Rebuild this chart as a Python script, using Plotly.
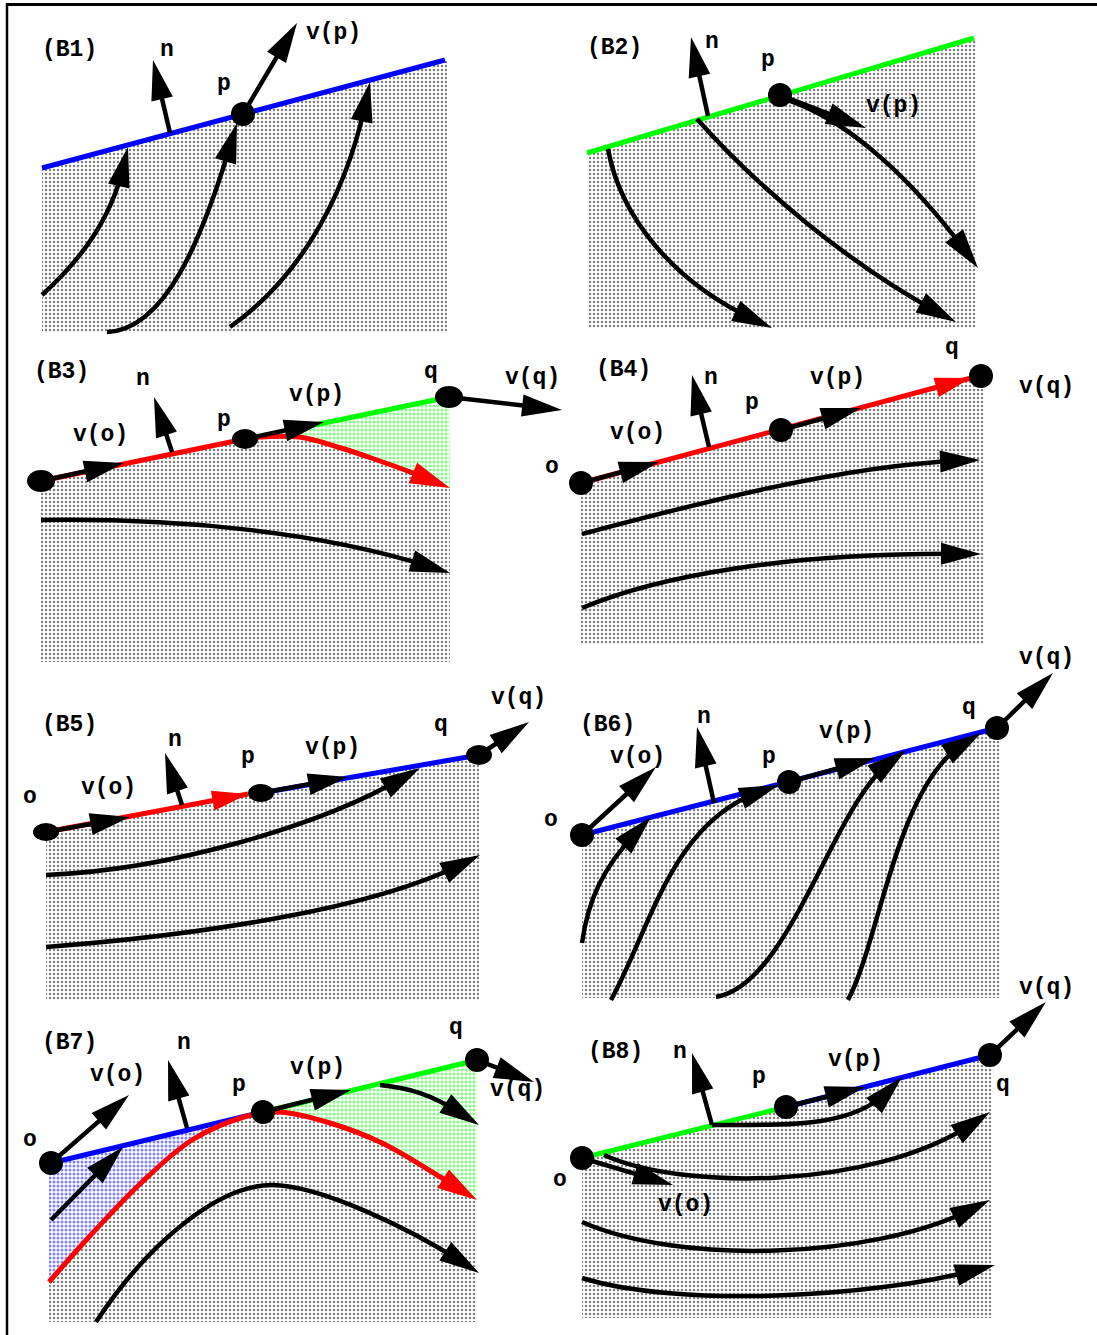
import numpy as np
import plotly.graph_objects as go

W, H = 1097, 1335
FONT = "Liberation Mono"
BLUE, GREEN, RED, BLACK = "#0000ff", "#00ff00", "#ff0000", "#000000"

# Curved flow lines are given as cubic Bezier control polygons:
# [start, ctrl1, ctrl2, end, (ctrl, ctrl, end) ...]; the arrowhead sits at the end.

# ---------------- panel B1 ----------------
B1_EDGE = [(42, 168), (445, 60)]
B1_FILL = [(42, 168), (447, 59), (447, 333), (42, 333)]
B1_P = (243, 114)
B1_N = [(170, 133), (153, 60)]
B1_VP = [(243, 114), (297, 23)]
B1_FLOW1 = [(42, 295), (75, 265), (112, 215), (128, 147)]
B1_FLOW2 = [(107, 332), (165, 330), (205, 230), (237, 123)]
B1_FLOW3 = [(230, 327), (290, 285), (345, 200), (370, 82)]
B1_LABELS = [("(B1)", 69, 50), ("n", 167, 50), ("p", 224, 84), ("v(p)", 333, 33)]

# ---------------- panel B2 ----------------
B2_EDGE = [(587, 153), (974, 38)]
B2_FILL = [(587, 153), (976, 38), (976, 328), (587, 328)]
B2_P = (780, 95)
B2_N = [(708, 116), (691, 37)]
B2_VP = [(780, 95), (866, 128)]
B2_FLOW1 = [(608, 149), (620, 215), (680, 285), (772, 328)]
B2_FLOW2 = [(697, 119), (760, 190), (860, 270), (956, 322)]
B2_FLOW3 = [(785, 99), (850, 120), (920, 190), (978, 268)]
B2_LABELS = [("(B2)", 614, 48), ("n", 712, 42), ("p", 768, 60), ("v(p)", 893, 106)]

# ---------------- panel B3 ----------------
B3_O, B3_P, B3_Q = (41, 481), (245, 439), (449, 397)
B3_RED_EDGE = [(41, 481), (245, 439)]
B3_GREEN_EDGE = [(300, 428), (449, 397)]
B3_RED_FLOW = [(245, 438), (299, 437), (341, 448), (377, 460), (413, 473), (450, 488)]
B3_VO = [(41, 481), (124, 463)]
B3_VP = [(245, 439), (324, 422)]
B3_VQ = [(449, 397), (562, 410)]
B3_N = [(172, 452), (154, 397)]
B3_GRAY = [(41, 481), (245, 439), (299, 437), (341, 448), (377, 460), (413, 474),
           (450, 488), (450, 662), (41, 662)]
B3_GREENFILL = [(260, 436), (449, 397), (450, 488), (413, 474), (377, 460), (341, 448), (299, 437)]
B3_FLOW = [(41, 520), (180, 518), (330, 535), (450, 573)]
B3_LABELS = [("(B3)", 61, 372), ("n", 143, 379), ("p", 224, 420), ("v(o)", 100, 435),
             ("v(p)", 316, 395), ("q", 431, 372), ("v(q)", 532, 378)]

# ---------------- panel B4 ----------------
B4_O, B4_P, B4_Q = (581, 483), (781, 430), (981, 376)
B4_RED_EDGE = [(581, 483), (971, 378)]
B4_VO = [(581, 483), (659, 462)]
B4_VP = [(781, 430), (861, 408)]
B4_N = [(709, 447), (692, 375)]
B4_FILL = [(581, 483), (984, 375), (984, 645), (581, 645)]
B4_FLOW1 = [(582, 534), (680, 508), (850, 465), (980, 460)]
B4_FLOW2 = [(582, 608), (660, 575), (800, 553), (981, 554)]
B4_LABELS = [("(B4)", 623, 370), ("n", 711, 378), ("p", 752, 403), ("v(o)", 637, 433),
             ("v(p)", 837, 378), ("q", 952, 348), ("v(q)", 1046, 387), ("o", 552, 467)]

# ---------------- panel B5 ----------------
B5_O, B5_P, B5_Q = (46, 832), (261, 793), (479, 755)
B5_RED_EDGE = [(46, 832), (248, 794)]
B5_BLUE_EDGE = [(261, 793), (479, 755)]
B5_VO = [(46, 832), (130, 817)]
B5_VP = [(261, 793), (348, 777)]
B5_VQ = [(479, 755), (529, 722)]
B5_N = [(182, 805), (165, 753)]
B5_FILL = [(46, 832), (261, 793), (479, 755), (479, 1000), (46, 1000)]
B5_FLOW1 = [(46, 875), (170, 870), (330, 820), (420, 768)]
B5_FLOW2 = [(46, 947), (200, 935), (380, 905), (480, 855)]
B5_LABELS = [("(B5)", 69, 725), ("n", 175, 740), ("p", 248, 757), ("v(p)", 332, 748),
             ("o", 30, 797), ("v(o)", 108, 788), ("q", 441, 725), ("v(q)", 518, 698)]

# ---------------- panel B6 ----------------
B6_O, B6_P, B6_Q = (582, 835), (789, 782), (997, 728)
B6_BLUE_EDGE = [(582, 835), (997, 728)]
B6_VO = [(582, 835), (656, 767)]
B6_VP = [(789, 782), (875, 758)]
B6_VQ = [(997, 728), (1053, 673)]
B6_N = [(714, 803), (697, 727)]
B6_FILL = [(582, 835), (1000, 728), (1000, 998), (582, 998)]
B6_FLOW1 = [(582, 943), (588, 900), (610, 860), (651, 817)]
B6_FLOW2 = [(611, 1000), (650, 930), (680, 820), (779, 785)]
B6_FLOW3 = [(716, 997), (790, 985), (840, 800), (906, 750)]
B6_FLOW4 = [(848, 1000), (880, 940), (905, 780), (981, 733)]
B6_LABELS = [("(B6)", 607, 725), ("v(o)", 637, 757), ("n", 704, 717), ("p", 769, 757),
             ("v(p)", 846, 732), ("q", 969, 708), ("v(q)", 1046, 658), ("o", 551, 820)]

# ---------------- panel B7 ----------------
B7_O, B7_P, B7_Q = (51, 1163), (263, 1112), (477, 1060)
B7_BLUE_EDGE = [(51, 1163), (263, 1112)]
B7_GREEN_EDGE = [(263, 1112), (477, 1060)]
B7_RED_FLOW = [(49, 1282), (89, 1237), (141, 1183), (192, 1140), (244, 1117), (279, 1112),
               (330, 1123), (382, 1143), (442, 1178), (477, 1200)]
B7_VO = [(51, 1163), (129, 1095)]
B7_VP = [(263, 1112), (351, 1090)]
B7_VQ = [(477, 1060), (534, 1082)]
B7_N = [(187, 1128), (168, 1060)]
B7_INNER = [(51, 1220), (123, 1147)]
B7_SMALL = [(380, 1085), (410, 1088), (440, 1100), (479, 1125)]
B7_FLOW = [(96, 1322), (150, 1240), (220, 1185), (272, 1185), (320, 1185), (420, 1235), (479, 1273)]
B7_BLUEFILL = [(49, 1163), (263, 1112), (244, 1117), (192, 1140), (141, 1183), (89, 1237), (49, 1282)]
B7_GREENFILL = [(263, 1112), (477, 1060), (477, 1200), (442, 1178), (382, 1143), (330, 1123), (279, 1112)]
B7_GRAYFILL = [(49, 1282), (89, 1237), (141, 1183), (192, 1140), (244, 1117), (279, 1112),
               (330, 1123), (382, 1143), (442, 1178), (477, 1200), (477, 1322), (49, 1322)]
B7_LABELS = [("(B7)", 69, 1043), ("n", 184, 1043), ("v(o)", 117, 1075), ("o", 30, 1140),
             ("p", 239, 1085), ("v(p)", 317, 1068), ("q", 456, 1028), ("v(q)", 517, 1090)]

# ---------------- panel B8 ----------------
B8_O, B8_P, B8_Q = (582, 1158), (786, 1107), (990, 1055)
B8_GREEN_EDGE = [(582, 1158), (786, 1107)]
B8_BLUE_EDGE = [(786, 1107), (990, 1055)]
B8_VO = [(582, 1158), (673, 1185)]
B8_VP = [(786, 1107), (865, 1087)]
B8_VQ = [(990, 1055), (1046, 1002)]
B8_N = [(712, 1125), (692, 1053)]
B8_SPLIT = [(712, 1125), (790, 1125), (860, 1120), (902, 1077)]
B8_FILL = [(582, 1158), (992, 1055), (992, 1318), (582, 1318)]
B8_FLOW1 = [(604, 1155), (680, 1190), (880, 1185), (990, 1112)]
B8_FLOW2 = [(582, 1222), (680, 1265), (880, 1255), (990, 1200)]
B8_FLOW3 = [(582, 1278), (680, 1308), (880, 1295), (995, 1265)]
B8_LABELS = [("(B8)", 615, 1052), ("n", 680, 1052), ("p", 759, 1077), ("v(p)", 855, 1060),
             ("v(q)", 1046, 988), ("q", 1003, 1085), ("v(o)", 685, 1205), ("o", 560, 1180)]

# ---------------- frame ----------------
FRAME_TOP = [(6, 4.5), (1097, 4.5)]
FRAME_LEFT = [(7, 3), (7, 1335)]

# =====================================================================
fig = go.Figure()
DOT_R = 12
HEAD_L, HEAD_W = 40, 11
ARROW_W = 4.5
shapes = []
dots = []
annotations = []


def xy(pts):
    return [p[0] for p in pts], [p[1] for p in pts]


def region(pts, fg=BLACK, solidity=0.3):
    x, y = xy(pts)
    fig.add_trace(go.Scatter(
        x=x + [x[0]], y=y + [y[0]], mode="lines", fill="toself",
        line=dict(width=0, color="rgba(0,0,0,0)"), fillcolor="white",
        fillpattern=dict(shape=".", size=4, solidity=solidity, fgcolor=fg, bgcolor="white"),
        hoverinfo="skip"))


def line(pts, color, width=5, spline=False):
    x, y = xy(pts)
    fig.add_trace(go.Scatter(
        x=x, y=y, mode="lines",
        line=dict(color=color, width=width, shape="spline" if spline else "linear"),
        hoverinfo="skip"))


def unit(a, b):
    d = np.array(b, float) - np.array(a, float)
    return d / np.linalg.norm(d)


def head(tip, frm, color=BLACK, L=HEAD_L, hw=HEAD_W):
    t = np.array(tip, float)
    d = unit(frm, tip)
    nrm = np.array([-d[1], d[0]])
    b = t - L * d
    p1, p2 = b + hw * nrm, b - hw * nrm
    shapes.append(dict(type="path", xref="x", yref="y",
                       path="M %.1f,%.1f L %.1f,%.1f L %.1f,%.1f Z" % (t[0], t[1], p1[0], p1[1], p2[0], p2[1]),
                       fillcolor=color, line=dict(width=0), layer="above"))


def arrow(pts, color=BLACK):
    # straight arrow
    d = unit(pts[0], pts[1])
    end = np.array(pts[1], float) - 0.5 * HEAD_L * d
    shapes.append(dict(type="path", xref="x", yref="y",
                       path="M %.1f,%.1f L %.1f,%.1f" % (pts[0][0], pts[0][1], end[0], end[1]),
                       line=dict(color=color, width=ARROW_W), layer="above"))
    head(pts[1], pts[0], color)


def curve_arrow(ctrl, color=BLACK, width=ARROW_W):
    tip, c_last = np.array(ctrl[-1], float), np.array(ctrl[-2], float)
    d = unit(c_last, tip)
    off = 0.5 * HEAD_L * d
    pts = [np.array(p, float) for p in ctrl]
    pts[-1] = tip - off
    pts[-2] = c_last - off * 0.5
    s = "M %.1f,%.1f" % (pts[0][0], pts[0][1])
    for i in range(1, len(pts), 3):
        a, b, c = pts[i], pts[i + 1], pts[i + 2]
        s += " C %.1f,%.1f %.1f,%.1f %.1f,%.1f" % (a[0], a[1], b[0], b[1], c[0], c[1])
    shapes.append(dict(type="path", xref="x", yref="y", path=s,
                       line=dict(color=color, width=width), layer="above"))
    head(ctrl[-1], ctrl[-2], color)


def spline_arrow(pts, color):
    d = unit(pts[-2], pts[-1])
    end = np.array(pts[-1], float) - 0.5 * HEAD_L * d
    line(list(pts[:-1]) + [(end[0], end[1])], color, 5, spline=True)
    head(pts[-1], pts[-2], color)


def dot(c, rx=DOT_R, ry=DOT_R):
    dots.append(dict(type="circle", xref="x", yref="y", x0=c[0] - rx, x1=c[0] + rx,
                     y0=c[1] - ry, y1=c[1] + ry, fillcolor=BLACK, line=dict(width=0),
                     layer="above"))


def labels(items):
    for txt, x, y in items:
        annotations.append(dict(x=x, y=y, xref="x", yref="y", text="<b>%s</b>" % txt,
                                showarrow=False, xanchor="center", yanchor="middle",
                                font=dict(family=FONT, size=23, color=BLACK)))


# ---- B1
region(B1_FILL)
line(B1_EDGE, BLUE)
for f in (B1_FLOW1, B1_FLOW2, B1_FLOW3):
    curve_arrow(f)
arrow(B1_N)
arrow(B1_VP)
dot(B1_P)
labels(B1_LABELS)

# ---- B2
region(B2_FILL)
line(B2_EDGE, GREEN)
for f in (B2_FLOW1, B2_FLOW2, B2_FLOW3):
    curve_arrow(f)
arrow(B2_N)
arrow(B2_VP)
dot(B2_P)
labels(B2_LABELS)

# ---- B3
region(B3_GRAY)
region(B3_GREENFILL, GREEN, 0.45)
line(B3_RED_EDGE, RED)
line(B3_GREEN_EDGE, GREEN)
spline_arrow(B3_RED_FLOW, RED)
curve_arrow(B3_FLOW)
for a in (B3_VO, B3_VP, B3_VQ, B3_N):
    arrow(a)
dot(B3_O, 14, 11)
dot(B3_P, 13, 10)
dot(B3_Q, 14, 11)
labels(B3_LABELS)

# ---- B4
region(B4_FILL)
line(B4_RED_EDGE, RED)
for f in (B4_FLOW1, B4_FLOW2):
    curve_arrow(f)
for a in (B4_VO, B4_VP, B4_N):
    arrow(a)
head(B4_RED_EDGE[1], B4_RED_EDGE[0], RED, 36, 10)
dot(B4_O)
dot(B4_P)
dot(B4_Q)
labels(B4_LABELS)

# ---- B5
region(B5_FILL)
line(B5_RED_EDGE, RED)
line(B5_BLUE_EDGE, BLUE)
for f in (B5_FLOW1, B5_FLOW2):
    curve_arrow(f)
for a in (B5_VO, B5_VP, B5_VQ, B5_N):
    arrow(a)
head(B5_RED_EDGE[1], B5_RED_EDGE[0], RED, 36, 10)
dot(B5_O, 13, 9)
dot(B5_P, 13, 9)
dot(B5_Q, 13, 10)
labels(B5_LABELS)

# ---- B6
region(B6_FILL)
line(B6_BLUE_EDGE, BLUE)
for f in (B6_FLOW1, B6_FLOW2, B6_FLOW3, B6_FLOW4):
    curve_arrow(f)
for a in (B6_VO, B6_VP, B6_VQ, B6_N):
    arrow(a)
dot(B6_O)
dot(B6_P)
dot(B6_Q)
labels(B6_LABELS)

# ---- B7
region(B7_GRAYFILL)
region(B7_BLUEFILL, BLUE, 0.45)
region(B7_GREENFILL, GREEN, 0.45)
line(B7_BLUE_EDGE, BLUE)
line(B7_GREEN_EDGE, GREEN)
spline_arrow(B7_RED_FLOW, RED)
curve_arrow(B7_FLOW)
curve_arrow(B7_SMALL)
for a in (B7_VO, B7_VP, B7_VQ, B7_N, B7_INNER):
    arrow(a)
dot(B7_O)
dot(B7_P)
dot(B7_Q)
labels(B7_LABELS)

# ---- B8
region(B8_FILL)
line(B8_GREEN_EDGE, GREEN)
line(B8_BLUE_EDGE, BLUE)
for f in (B8_FLOW1, B8_FLOW2, B8_FLOW3, B8_SPLIT):
    curve_arrow(f)
for a in (B8_VO, B8_VP, B8_VQ, B8_N):
    arrow(a)
dot(B8_O)
dot(B8_P)
dot(B8_Q)
labels(B8_LABELS)

# ---- frame
line(FRAME_TOP, BLACK, 3)
line(FRAME_LEFT, BLACK, 2.5)

fig.update_layout(
    width=W, height=H, margin=dict(l=0, r=0, t=0, b=0),
    paper_bgcolor="white", plot_bgcolor="white", showlegend=False,
    xaxis=dict(range=[0, W], visible=False, fixedrange=True),
    yaxis=dict(range=[H, 0], visible=False, fixedrange=True),
    shapes=shapes + dots, annotations=annotations,
)

fig.write_html("out.html", config={"displayModeBar": False},
               post_script="document.body.style.margin='0';")
